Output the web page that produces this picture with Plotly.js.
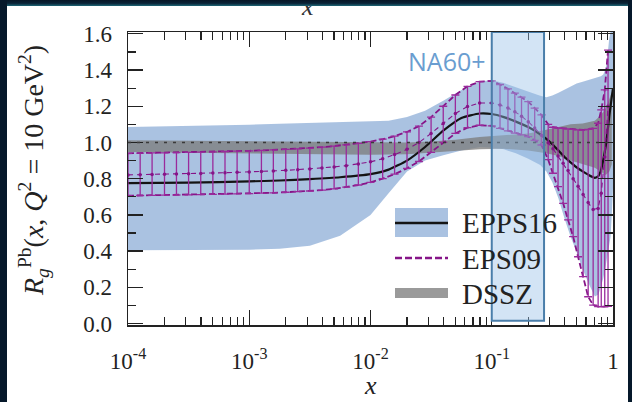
<!DOCTYPE html>
<html>
<head>
<meta charset="utf-8">
<script src="https://cdn.plot.ly/plotly-3.0.1.min.js"></script>
<style>
  html, body { margin: 0; padding: 0; background: #ffffff; width: 632px; height: 402px; overflow: hidden; }
  #chart { position: absolute; left: 0; top: 0; width: 632px; height: 402px; }
  .band { position: absolute; }
</style>
</head>
<body>
<div id="chart"></div>
<div class="band" style="left:0;top:0;width:632px;height:6px;background:linear-gradient(#061626 0%, #0a2438 55%, #1d6676 100%);"></div>
<div class="band" style="left:0;top:0;width:7px;height:402px;background:#05182a;"></div>
<div class="band" style="left:628px;top:0;width:4px;height:402px;background:#05182a;"></div>
<script>
// ---------------- data ----------------
// EPPS16 (band + central value)
const epps16_x = [1.0e-4, 3.16e-4, 1.0e-3, 1.78e-3, 3.16e-3, 5.62e-3, 1.0e-2, 1.41e-2, 2.0e-2, 2.82e-2,
  3.98e-2, 5.62e-2, 7.94e-2, 0.100, 0.126, 0.158, 0.200, 0.251, 0.282, 0.316, 0.355, 0.398, 0.447,
  0.501, 0.562, 0.631, 0.708, 0.759, 0.794, 0.832, 0.871, 0.891, 0.912, 0.933, 0.955, 0.977, 1.0];
const epps16_up = [1.085, 1.090, 1.098, 1.104, 1.108, 1.111, 1.115, 1.120, 1.140, 1.175,
  1.230, 1.290, 1.338, 1.343, 1.328, 1.305, 1.280, 1.258, 1.250, 1.260, 1.275, 1.293, 1.310,
  1.325, 1.335, 1.345, 1.355, 1.362, 1.366, 1.375, 1.410, 1.450, 1.520, 1.580, 1.610, 1.610, 1.610];
const epps16_mid = [0.775, 0.778, 0.785, 0.790, 0.798, 0.808, 0.825, 0.850, 0.900, 0.975,
  1.065, 1.135, 1.160, 1.157, 1.140, 1.115, 1.085, 1.045, 1.020, 0.990, 0.955, 0.920, 0.890,
  0.862, 0.840, 0.820, 0.805, 0.815, 0.845, 0.905, 0.980, 1.030, 1.090, 1.150, 1.200, 1.250, 1.300];
const epps16_lo = [0.405, 0.405, 0.408, 0.413, 0.430, 0.485, 0.600, 0.720, 0.840, 0.900,
  0.930, 0.955, 0.975, 0.972, 0.962, 0.940, 0.910, 0.875, 0.840, 0.780, 0.690, 0.580, 0.480,
  0.395, 0.300, 0.220, 0.150, 0.160, 0.200, 0.250, 0.320, 0.360, 0.390, 0.420, 0.480, 0.600, 0.750];

// EPS09 (central value with error bars)
const eps09_x = [1.00e-4, 1.26e-4, 1.58e-4, 2.00e-4, 2.51e-4, 3.16e-4, 3.98e-4, 5.01e-4, 6.31e-4, 7.94e-4,
  1.00e-3, 1.26e-3, 1.58e-3, 2.00e-3, 2.51e-3, 3.16e-3, 3.98e-3, 5.01e-3, 6.31e-3, 7.94e-3,
  1.00e-2, 1.26e-2, 1.58e-2, 2.00e-2, 2.51e-2, 3.16e-2, 3.98e-2, 5.01e-2, 6.31e-2, 7.94e-2,
  0.100, 0.117, 0.136, 0.155, 0.176, 0.200, 0.226, 0.257, 0.292, 0.320, 0.352, 0.388, 0.426,
  0.469, 0.515, 0.567, 0.624, 0.686, 0.754, 0.800, 0.855, 0.910];
const eps09_up = [0.940, 0.941, 0.942, 0.943, 0.944, 0.945, 0.947, 0.948, 0.950, 0.952,
  0.954, 0.956, 0.959, 0.962, 0.965, 0.969, 0.974, 0.980, 0.987, 0.995,
  1.005, 1.018, 1.035, 1.058, 1.090, 1.140, 1.200, 1.262, 1.310, 1.336,
  1.340, 1.320, 1.296, 1.272, 1.250, 1.225, 1.190, 1.152, 1.100, 1.084, 1.080, 1.078, 1.075,
  1.072, 1.069, 1.069, 1.072, 1.078, 1.106, 1.180, 1.290, 1.510];
const eps09_mid = [0.821, 0.822, 0.823, 0.824, 0.826, 0.827, 0.829, 0.831, 0.833, 0.835,
  0.837, 0.840, 0.843, 0.846, 0.850, 0.854, 0.859, 0.865, 0.872, 0.881,
  0.893, 0.910, 0.933, 0.962, 1.000, 1.050, 1.105, 1.160, 1.198, 1.218,
  1.218, 1.207, 1.190, 1.170, 1.145, 1.115, 1.080, 1.040, 0.998, 0.965, 0.925, 0.885, 0.845,
  0.800, 0.758, 0.712, 0.668, 0.630, 0.636, 0.720, 0.920, 1.200];
const eps09_lo = [0.706, 0.707, 0.708, 0.709, 0.710, 0.711, 0.712, 0.713, 0.715, 0.716,
  0.718, 0.720, 0.722, 0.725, 0.728, 0.732, 0.737, 0.744, 0.753, 0.765,
  0.780, 0.800, 0.825, 0.857, 0.895, 0.945, 1.000, 1.050, 1.082, 1.095,
  1.092, 1.078, 1.064, 1.052, 1.042, 1.032, 1.012, 0.986, 0.905, 0.830, 0.756, 0.664, 0.572,
  0.480, 0.369, 0.259, 0.148, 0.102, 0.093, 0.093, 0.093, 0.095];

// DSSZ (band)
const dssz_x = [1.0e-4, 1.0e-3, 3.16e-3, 1.0e-2, 2.0e-2, 3.16e-2, 5.01e-2, 7.94e-2, 0.126, 0.200,
  0.282, 0.355, 0.447, 0.562, 0.708, 0.794, 0.871, 0.933, 0.977];
const dssz_up = [1.012, 1.006, 1.002, 0.999, 1.000, 1.005, 1.015, 1.030, 1.040, 1.050,
  1.070, 1.085, 1.100, 1.105, 1.120, 1.150, 1.190, 1.240, 1.280];
const dssz_lo = [0.947, 0.940, 0.936, 0.932, 0.935, 0.943, 0.953, 0.963, 0.965, 0.955,
  0.940, 0.925, 0.900, 0.880, 0.860, 0.840, 0.820, 0.840, 0.880];

// NA60+ acceptance window in x
const na60_range = [0.1, 0.27];

// axis tick labels
const xTickVals = [1e-4, 1e-3, 1e-2, 1e-1, 1];
const xTickText = ['10<sup>-4</sup>', '10<sup>-3</sup>', '10<sup>-2</sup>', '10<sup>-1</sup>', '1'];
const legendNames = ['EPPS16', 'EPS09', 'DSSZ'];

// ---------------- drawing ----------------
const minorX = [];
for (let e = -4; e < 0; e++) for (let d = 2; d <= 9; d++) minorX.push(d * Math.pow(10, e));

const PURPLE = '#861488';
const traces = [
  {x: epps16_x, y: epps16_up, mode: 'lines', line: {width: 0, color: 'rgba(0,0,0,0)'}, hoverinfo: 'skip'},
  {x: epps16_x, y: epps16_lo, mode: 'lines', line: {width: 0, color: 'rgba(0,0,0,0)'},
   fill: 'tonexty', fillcolor: 'rgba(118,156,206,0.62)', hoverinfo: 'skip'},
  {x: dssz_x, y: dssz_up, mode: 'lines', line: {width: 0, color: 'rgba(0,0,0,0)'}, hoverinfo: 'skip'},
  {x: dssz_x, y: dssz_lo, mode: 'lines', line: {width: 0, color: 'rgba(0,0,0,0)'},
   fill: 'tonexty', fillcolor: 'rgba(125,125,125,0.78)', hoverinfo: 'skip'},
  {x: epps16_x, y: epps16_mid, mode: 'lines', line: {width: 2.2, color: '#141414', shape: 'spline', smoothing: 0.5}},
  {x: eps09_x, y: eps09_up, mode: 'lines', line: {width: 1.8, color: PURPLE, dash: '6px,3px'}},
  {x: eps09_x, y: eps09_lo, mode: 'lines', line: {width: 1.8, color: PURPLE, dash: '6px,3px'}},
  {x: eps09_x, y: eps09_mid, mode: 'lines+markers',
   line: {width: 1.1, color: PURPLE, dash: '5px,4px'},
   marker: {size: 3.5, color: PURPLE},
   error_y: {type: 'data', symmetric: false,
     array: eps09_up.map((u, i) => u - eps09_mid[i]),
     arrayminus: eps09_mid.map((m, i) => m - eps09_lo[i]),
     color: '#9a2a9c', thickness: 1.3, width: 4}}
];

const X0 = 128, X1 = 613, Y0 = 32, Y1 = 325;
const px2xp = px => (px - X0) / (X1 - X0);
const py2yp = py => (Y1 - py) / (Y1 - Y0);

const serif = 'Liberation Serif, DejaVu Serif, serif';
const shapes = [
  // reference line R = 1
  {type: 'line', xref: 'paper', yref: 'y', x0: 0, x1: 1, y0: 1, y1: 1, layer: 'above',
   line: {color: '#3a3a3a', width: 1.6, dash: '3px,6px'}},
  // NA60+ window
  {type: 'rect', xref: 'x', yref: 'y', x0: na60_range[0], x1: na60_range[1], y0: 0.015, y1: 1.61, layer: 'above',
   fillcolor: 'rgba(150,190,232,0.42)', line: {color: '#4a7eaa', width: 2}},
  // legend samples
  {type: 'rect', xref: 'paper', yref: 'paper', x0: px2xp(395), x1: px2xp(448), y0: py2yp(237), y1: py2yp(208),
   fillcolor: 'rgba(118,156,206,0.62)', line: {width: 0}},
  {type: 'line', xref: 'paper', yref: 'paper', x0: px2xp(395), x1: px2xp(448), y0: py2yp(223), y1: py2yp(223),
   line: {color: '#141414', width: 2.6}},
  {type: 'line', xref: 'paper', yref: 'paper', x0: px2xp(395), x1: px2xp(448), y0: py2yp(258), y1: py2yp(258),
   line: {color: PURPLE, width: 2.6, dash: '7px,3px'}},
  {type: 'rect', xref: 'paper', yref: 'paper', x0: px2xp(395), x1: px2xp(448), y0: py2yp(298), y1: py2yp(288),
   fillcolor: 'rgba(125,125,125,0.78)', line: {width: 0}}
];

const annotations = [
  {xref: 'paper', yref: 'paper', x: px2xp(488), y: py2yp(61), xanchor: 'right', yanchor: 'middle',
   text: 'NA60+', showarrow: false, font: {family: 'Open Sans, Noto Sans, sans-serif', size: 25, color: '#6a9dd0'}},
  {xref: 'paper', yref: 'paper', x: px2xp(460), y: py2yp(223), xanchor: 'left', yanchor: 'middle',
   text: legendNames[0], showarrow: false, font: {family: serif, size: 29, color: '#222'}},
  {xref: 'paper', yref: 'paper', x: px2xp(460), y: py2yp(259), xanchor: 'left', yanchor: 'middle',
   text: legendNames[1], showarrow: false, font: {family: serif, size: 29, color: '#222'}},
  {xref: 'paper', yref: 'paper', x: px2xp(460), y: py2yp(294), xanchor: 'left', yanchor: 'middle',
   text: legendNames[2], showarrow: false, font: {family: serif, size: 29, color: '#222'}},
  // y-axis title
  {xref: 'paper', yref: 'paper', x: px2xp(33), y: py2yp(171), xanchor: 'center', yanchor: 'middle', textangle: -90,
   text: '<i>R</i><sub><i>g</i></sub><sup>Pb</sup>(<i>x</i>, <i>Q</i><sup>2</sup> = 10 GeV<sup>2</sup>)',
   showarrow: false, font: {family: serif, size: 28, color: '#222'}},
  // x-axis title
  {xref: 'paper', yref: 'paper', x: px2xp(370), y: py2yp(402), xanchor: 'center', yanchor: 'bottom',
   text: '<i>x</i>', showarrow: false, font: {family: serif, size: 26, color: '#222'}},
  // cropped title of the panel above
  {xref: 'paper', yref: 'paper', x: px2xp(307), y: py2yp(6), xanchor: 'center', yanchor: 'middle',
   text: '<i>x</i>', showarrow: false, font: {family: serif, size: 26, color: '#333'}}
];

const axisCommon = {
  showgrid: false, zeroline: false, showline: true, linecolor: '#222', linewidth: 1.5,
  mirror: 'ticks', ticks: 'inside', ticklen: 15, tickwidth: 1.3, tickcolor: '#222',
  tickfont: {family: serif, size: 23, color: '#222'}
};

const layout = {
  width: 632, height: 402,
  margin: {l: X0, r: 632 - X1, t: Y0, b: 402 - Y1, pad: 0},
  paper_bgcolor: '#ffffff', plot_bgcolor: '#ffffff',
  showlegend: false,
  xaxis: Object.assign({}, axisCommon, {
    type: 'log', range: [-4, 0], tickmode: 'array', tickvals: xTickVals, ticktext: xTickText,
    ticklabelstandoff: 15,
    minor: {ticks: 'inside', ticklen: 8, tickwidth: 1.2, tickcolor: '#222', tickmode: 'array', tickvals: minorX, showgrid: false}
  }),
  yaxis: Object.assign({}, axisCommon, {
    range: [-0.008, 1.61], tickmode: 'linear', tick0: 0, dtick: 0.2, tickformat: '.1f',
    ticklabelstandoff: 10,
    minor: {ticks: 'inside', ticklen: 8, tickwidth: 1.2, tickcolor: '#222', dtick: 0.1, tick0: 0, showgrid: false}
  }),
  shapes: shapes,
  annotations: annotations
};

Plotly.newPlot('chart', traces, layout, {displayModeBar: false, staticPlot: true});
</script>
</body>
</html>
